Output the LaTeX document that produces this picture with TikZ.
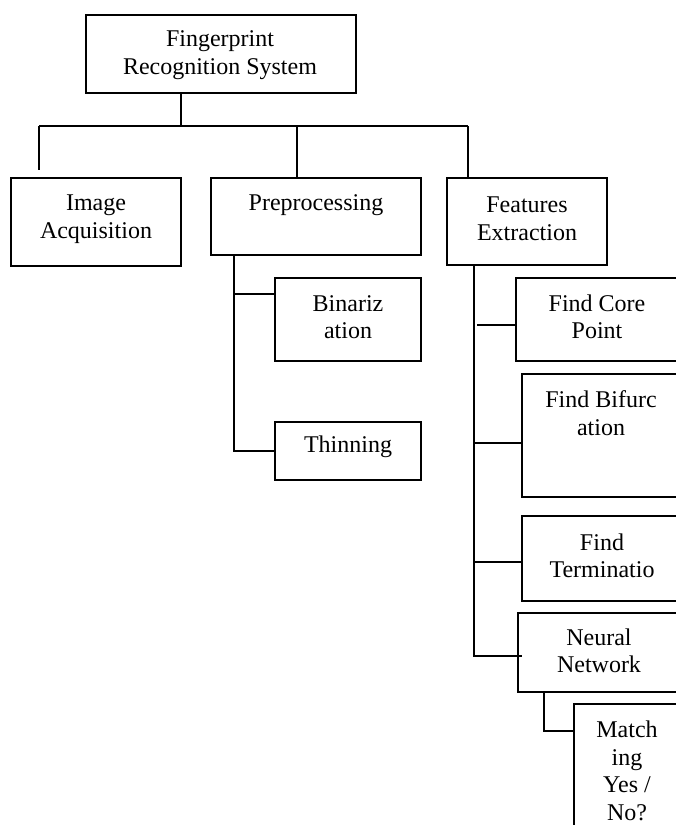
\documentclass[tikz,border=0pt]{standalone}
\usepackage{fontspec}
\setmainfont{Liberation Serif}
\begin{document}
\begin{tikzpicture}[x=1pt,y=-1pt,
  box/.style={draw,line width=1.6pt,inner sep=0pt,rectangle},
  lbl/.style={align=center,inner sep=0pt,font=\fontsize{24}{27.5}\selectfont},
  conn/.style={line width=1.6pt}]
\useasboundingbox (0,0) rectangle (676,825);
\clip (0,0) rectangle (676,825);
% boxes
\node[box,minimum width=270,minimum height=78] (top) at (221,54) {};
\node[box,minimum width=170,minimum height=88] (img) at (96,222) {};
\node[box,minimum width=210,minimum height=77] (pre) at (316,216.5) {};
\node[box,minimum width=160,minimum height=87] (feat) at (527,221.5) {};
\node[box,minimum width=146,minimum height=83] (bin) at (348,319.5) {};
\node[box,minimum width=146,minimum height=58] (thin) at (348,451) {};
\node[box,minimum width=164,minimum height=83] (core) at (598,319.5) {};
\node[box,minimum width=158,minimum height=123] (bif) at (601,435.5) {};
\node[box,minimum width=158,minimum height=85] (term) at (601,558.5) {};
\node[box,minimum width=162,minimum height=79] (neur) at (599,652.5) {};
\node[box,minimum width=106,minimum height=131] (match) at (627,769.5) {};
% labels
\node[lbl] (ttop) at (220,55) {Fingerprint\\Recognition System};
\node[lbl] (timg) at (96,219) {Image\\Acquisition};
\node[lbl] (tpre) at (316,205) {Preprocessing};
\node[lbl] (tfeat) at (527,219) {Features\\Extraction};
\node[lbl] (tbin) at (348,317) {Binariz\\ation};
\node[lbl] (tthin) at (348,447) {Thinning};
\node[lbl] (tcore) at (597,317) {Find Core\\Point};
\node[lbl] (tbif) at (601,413) {Find Bifurc\\ation};
\node[lbl] (tterm) at (602,556) {Find\\Terminatio};
\node[lbl] (tneur) at (599,651) {Neural\\Network};
\node[lbl] (tmatch) at (627,771) {Match\\ing\\Yes /\\No?};
% coordinates
\coordinate (hub) at (181,126);
\coordinate (hl) at (39,126);
\coordinate (hm) at (297,126);
\coordinate (hr) at (468,126);
\coordinate (hlend) at (39,170);
\coordinate (ptr) at (234,294);
\coordinate (ftr) at (474,443);
\coordinate (cstart) at (477,325);
\coordinate (tstart) at (474,562);
\coordinate (nend) at (522,656);
\coordinate (ntr) at (544,731);
% connectors
\draw[conn] (top.south -| hub) -- (hub);
\draw[conn] (hl) -- (hr);
\draw[conn] (hl) -- (hlend);
\draw[conn] (hm) -- (hm |- pre.north);
\draw[conn] (hr) -- (hr |- feat.north);
\draw[conn] (pre.south -| ptr) |- (thin.west);
\draw[conn] (ptr) -- (ptr -| bin.west);
\draw[conn] (feat.south -| ftr) |- (nend);
\draw[conn] (cstart) -- (cstart -| core.west);
\draw[conn] (ftr) -- (ftr -| bif.west);
\draw[conn] (tstart) -- (tstart -| term.west);
\draw[conn] (neur.south -| ntr) |- (match.west |- ntr);
\end{tikzpicture}
\end{document}
